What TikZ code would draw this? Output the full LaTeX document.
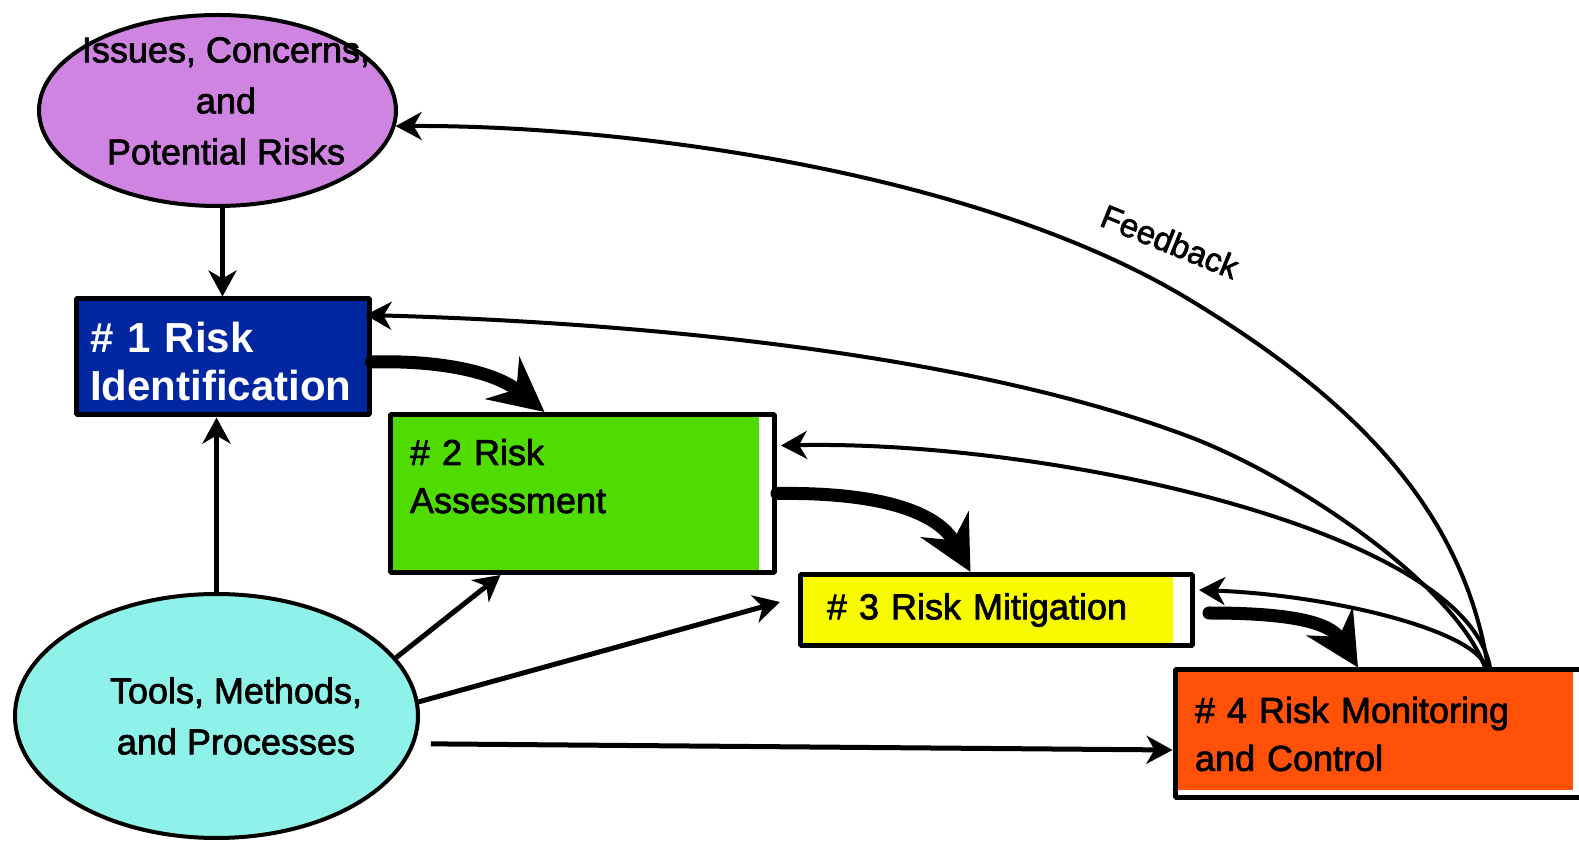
\documentclass[tikz,border=0pt]{standalone}
\usepackage{fontspec}
\setmainfont{Liberation Sans}
\newfontfamily\heavyfamily{Liberation Sans}[FakeBold=2]
\usepackage{tikz}
\usetikzlibrary{arrows.meta,shapes.geometric}

\definecolor{issuesfill}{RGB}{208,132,226}
\definecolor{toolsfill}{RGB}{142,242,232}
\definecolor{identfill}{RGB}{0,38,160}
\definecolor{assessfill}{RGB}{80,220,0}
\definecolor{mitigfill}{RGB}{248,250,0}
\definecolor{monitfill}{RGB}{255,82,8}

\newcommand{\plainfont}{\heavyfamily\fontsize{18bp}{24bp}\selectfont}
\newcommand{\ovalfont}{\heavyfamily\fontsize{18bp}{25.5bp}\selectfont}
\newcommand{\identfont}{\fontsize{21bp}{24bp}\selectfont\bfseries}
\newcommand{\fbfont}{\heavyfamily\fontsize{16.5bp}{20bp}\selectfont}

\tikzset{
  oval/.style={ellipse, draw=black, line width=2bp, inner sep=0pt},
  ovaltext/.style={align=center, inner sep=0pt, font=\ovalfont},
  riskbox/.style={rectangle, draw=black, line width=2.5bp, align=left, font=\plainfont},
  partfill/.style n args={3}{path picture={%
      \fill[#1] (path picture bounding box.north west) rectangle
        ([xshift=-#2, yshift=#3]path picture bounding box.south east);}},
  plainarrow/.style={->, line width=2.5bp},
  feedback/.style={->, line width=2bp},
  bigarrow/.style={-{Stealth[length=27bp,width=27bp,inset=9bp]}, line width=6.5bp, line cap=round},
}

\begin{document}
\begin{tikzpicture}[>={Stealth[length=13bp,width=14bp,inset=4bp]},line join=bevel,]
  \clip (0bp,0bp) rectangle (789.5bp,421.5bp);
\pgfsetcolor{black}
  % Node: issues
  \node[oval, fill=issuesfill, minimum width=178.5bp, minimum height=95.5bp] (issues) at (108.75bp,366.25bp) {};
  \node[ovaltext] (issuestxt) at (113bp,371bp) {Issues, Concerns,\\and\\Potential Risks};
  % Node: tools
  \node[oval, fill=toolsfill, minimum width=201.5bp, minimum height=122bp] (tools) at (108.25bp,63.5bp) {};
  \node[ovaltext] (toolstxt) at (118bp,63.5bp) {Tools, Methods,\\and Processes};
  % Node: box1
  \node[riskbox, fill=identfill, text=white, font=\identfont, minimum height=58bp,
        inner xsep=7bp, text width=132.5bp, text height=19.5bp] (box1) at (111.25bp,243bp) {\# 1 Risk\\Identification};
  % Node: box2
  \node[riskbox, partfill={assessfill}{8bp}{0bp}, inner xsep=9.75bp, text width=172.5bp,
        inner ysep=12.25bp, text height=13bp, text depth=41.5bp] (box2) at (291.25bp,174.75bp) {\# 2 Risk\\Assessment};
  % Node: box3
  \node[riskbox, partfill={mitigfill}{10bp}{0bp}, minimum height=35.5bp, inner xsep=13.25bp,
        text width=169.5bp] (box3) at (498.25bp,116.5bp) {\# 3 Risk Mitigation};
  % Node: box4
  \node[riskbox, partfill={monitfill}{11bp}{4bp}, minimum height=64bp, inner xsep=10bp,
        text width=190bp] (box4) at (692.5bp,54.5bp) {\# 4 Risk Monitoring\\and Control};
  \coordinate (fbroot) at ([xshift=51bp]box4.north);
  % Edge: issues -> box1
  \draw[plainarrow] (issues.south -| box1.north) -- (box1.north);
  % Edge: tools -> box1
  \draw[plainarrow] (tools.north) -- (tools.north |- box1.south);
  % Edge: tools -> box2
  \draw[plainarrow] (tools.18.5) -- ([xshift=-41bp]box2.south);
  % Edge: tools -> box3
  \draw[plainarrow] (tools.4) -- ([xshift=-9bp,yshift=4bp]box3.west);
  % Edge: tools -> box4
  \draw[plainarrow] ([xshift=8bp]tools.-8.7) -- ([yshift=-8bp]box4.west);
  % Edge: box1 -> box2
  \draw[bigarrow] ([yshift=-2.5bp]box1.east) .. controls (220bp,241.5bp) and (247.5bp,235.5bp) .. ([xshift=-19bp]box2.north);
  % Edge: box2 -> box3
  \draw[bigarrow] (box2.east) .. controls (440bp,175.5bp) and (469bp,165.5bp) .. ([xshift=-13bp]box3.north);
  % Edge: box3 -> box4
  \draw[bigarrow] ([xshift=7bp,yshift=-1.5bp]box3.east) .. controls (645bp,115bp) and (665bp,110.5bp) .. ([xshift=-13.5bp]box4.north);
  % Edge: box4 -> issues (feedback)
  \draw[feedback] ([xshift=0.5bp]fbroot) .. controls (731bp,171.5bp) and (670bp,226bp) .. (595bp,271.5bp)
    .. controls (488bp,336.5bp) and (310bp,359bp) .. (issues.-5);
  \node[font=\fbfont, rotate=-22, inner sep=0pt] (fblabel) at (585bp,300.75bp) {Feedback};
  % Edge: box4 -> box1
  \draw[feedback] ([xshift=-1bp]fbroot) .. controls (728bp,128bp) and (650bp,182bp) .. (595bp,203bp)
    .. controls (480bp,246.5bp) and (310bp,260.5bp) .. ([xshift=-3bp,yshift=21bp]box1.east);
  % Edge: box4 -> box2
  \draw[feedback] ([xshift=1.5bp]fbroot) .. controls (732.5bp,156.5bp) and (525bp,201.5bp) .. ([xshift=2bp,yshift=24bp]box2.east);
  % Edge: box4 -> box3
  \draw[feedback] ([xshift=-0.5bp]fbroot) .. controls (737.5bp,106.5bp) and (665bp,124bp) .. ([xshift=2bp,yshift=10bp]box3.east);
%
\end{tikzpicture}
\end{document}
